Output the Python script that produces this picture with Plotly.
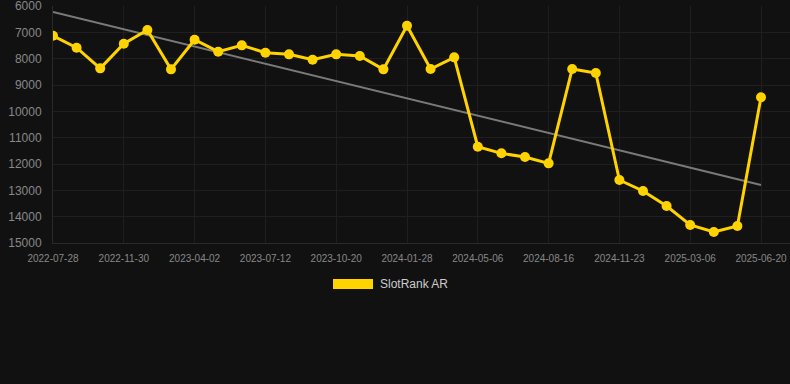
import numpy as np
import plotly.graph_objects as go

dates = ["2022-07-28", "2022-09-08", "2022-10-19", "2022-11-30", "2023-01-10", "2023-02-20",
         "2023-04-02", "2023-05-06", "2023-06-08", "2023-07-12", "2023-08-15", "2023-09-17",
         "2023-10-20", "2023-11-22", "2023-12-26", "2024-01-28", "2024-03-01", "2024-04-03",
         "2024-05-06", "2024-06-09", "2024-07-13", "2024-08-16", "2024-09-20", "2024-10-22",
         "2024-11-23", "2024-12-27", "2025-01-30", "2025-03-06", "2025-04-10", "2025-05-15",
         "2025-06-20"]
rank = [7130, 7583, 8367, 7432, 6912, 8405, 7280, 7735, 7494, 7773, 7836, 8038, 7836, 7899,
        8405, 6747, 8392, 7950, 11342, 11595, 11735, 11975, 8392, 8545, 12608, 13026, 13596,
        14317, 14583, 14355, 9468]
tick_labels = dates[::3]
y_ticks = [6000, 7000, 8000, 9000, 10000, 11000, 12000, 13000, 14000, 15000]
series_name = "SlotRank AR"

idx = np.arange(len(rank))
slope, intercept = np.polyfit(idx, rank, 1)
trend = intercept + slope * idx

W, H = 790, 384
L, R, T, B = 53, 0, 6, 141
pw, ph = W - L - R, H - T - B
step = 708 / 30.0
xmax = 30 + (W - 761) / step

fig = go.Figure()
fig.add_trace(go.Scatter(x=dates, y=trend, mode="lines",
                         line=dict(color="#7a7a7a", width=2), showlegend=False, hoverinfo="skip"))
fig.add_trace(go.Scatter(x=dates, y=rank, mode="lines+markers", name=series_name,
                         line=dict(color="#FFD300", width=3),
                         marker=dict(color="#FFD300", size=10), showlegend=False))

def px_x(p):
    return (p - L) / pw

def px_y(p):
    return (H - B - p) / ph

fig.add_shape(type="rect", xref="paper", yref="paper",
              x0=px_x(333), x1=px_x(373), y0=px_y(289), y1=px_y(279),
              fillcolor="#FFD300", line=dict(width=0))
fig.add_annotation(xref="paper", yref="paper", x=px_x(378), y=px_y(284),
                   xanchor="left", yanchor="middle", showarrow=False,
                   text=series_name, font=dict(size=12, color="#cccccc"))

fig.update_layout(
    width=W, height=H,
    margin=dict(l=L, r=R, t=T, b=B),
    paper_bgcolor="#111111", plot_bgcolor="#111111",
    font=dict(family="Liberation Sans, Arial, sans-serif", color="#888888"),
    showlegend=False,
)
fig.update_xaxes(type="category", range=[0, xmax], tickvals=tick_labels, ticktext=tick_labels,
                 showgrid=True, gridcolor="#1f1f1f", gridwidth=1,
                 tickfont=dict(size=10, color="#888888"), ticks="", ticklabelstandoff=6,
                 showline=True, linecolor="#2a2a2a", zeroline=False)
fig.update_yaxes(range=[15000.5, 5999.5], tickvals=y_ticks, ticktext=[str(v) for v in y_ticks],
                 showgrid=True, gridcolor="#1f1f1f", ticklabeloverflow="allow",
                 tickfont=dict(size=12, color="#888888"), ticks="", ticklabelstandoff=8,
                 showline=True, linecolor="#2a2a2a", zeroline=False)

fig.write_html("out.html", config={"displayModeBar": False},
               post_script="document.body.style.margin='0';document.body.style.background='#111111';")
